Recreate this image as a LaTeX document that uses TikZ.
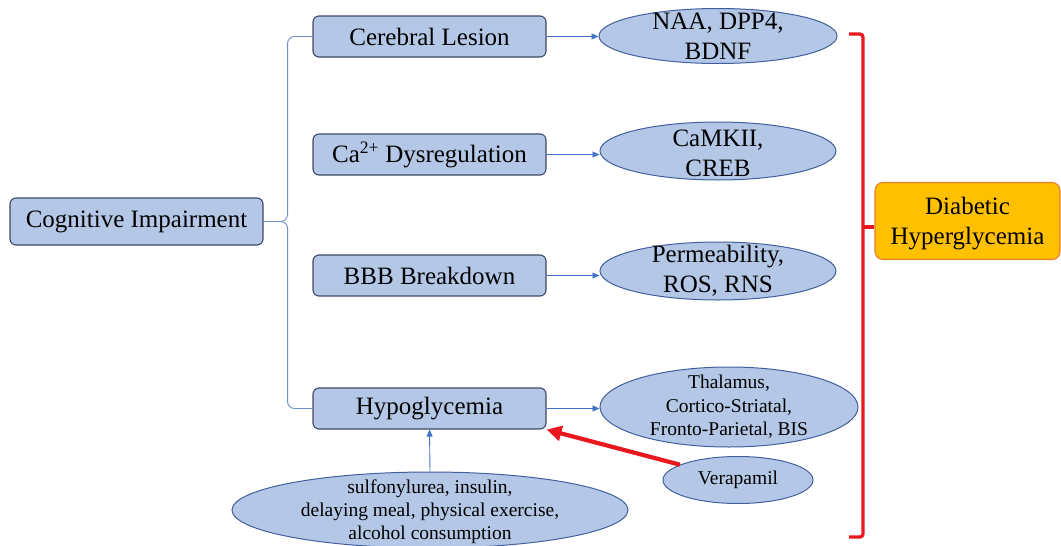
\documentclass[tikz,border=0pt]{standalone}
\usepackage{fontspec}
\setmainfont{Liberation Serif}
\usetikzlibrary{arrows.meta,shapes.geometric,calc}
\definecolor{boxfill}{RGB}{180,199,231}
\definecolor{boxline}{RGB}{60,72,100}
\definecolor{ellline}{RGB}{66,96,155}
\definecolor{arrblue}{RGB}{68,114,196}
\definecolor{connblue}{RGB}{110,142,200}
\definecolor{diabfill}{RGB}{255,192,0}
\definecolor{diabline}{RGB}{237,125,49}
\definecolor{redc}{RGB}{232,24,30}
\begin{document}
\begin{tikzpicture}[x=1pt,y=-1pt,
  bigfont/.style={font=\fontsize{25}{30}\selectfont},
  smallfont/.style={font=\fontsize{19.5}{23.5}\selectfont},
  box/.style={draw=boxline, fill=boxfill, line width=1.1pt, rounded corners=6pt,
    minimum width=233pt, minimum height=41pt, inner sep=0pt, bigfont},
  ell/.style={draw=ellline, fill=boxfill, line width=1pt, ellipse, inner sep=0pt},
  arr/.style={draw=arrblue, line width=0.9pt, -{Triangle[length=7pt,width=6pt]}},
  conn/.style={draw=connblue, line width=0.9pt},
  redbr/.style={draw=redc, line width=3.2pt},
  redarr/.style={draw=redc, line width=4.2pt, -{Triangle[length=15pt,width=15pt]}}
]
\useasboundingbox (0,0) rectangle (1061,546);

% left boxes
\node[box, minimum width=253pt, minimum height=47pt] (cog) at (136.5,221.5) {Cognitive Impairment};
\node[box] (cer) at (429.5,36.5) {Cerebral Lesion};
\node[box] (ca) at (429.5,154.5) {Ca\textsuperscript{2+} Dysregulation};
\node[box] (bbb) at (429.5,275.5) {BBB Breakdown};
\node[box] (hyp) at (429.5,408.5) {Hypoglycemia};

% ellipses
\node[ell, minimum width=238pt, minimum height=55pt,
  label={[bigfont, align=center]center:{NAA, DPP4,\\BDNF}}] (naa) at (718,36) {};
\node[ell, minimum width=236pt, minimum height=58pt,
  label={[bigfont, align=center, yshift=-2pt]center:{CaMKII,\\CREB}}] (camk) at (718,151) {};
\node[ell, minimum width=236pt, minimum height=58pt,
  label={[bigfont, align=center]center:{Permeability,\\ROS, RNS}}] (perm) at (718,271) {};
\node[ell, minimum width=258pt, minimum height=80pt,
  label={[smallfont, align=center]center:{Thalamus,\\Cortico-Striatal,\\Fronto-Parietal, BIS}}] (thal) at (729,407) {};
\node[ell, minimum width=150pt, minimum height=47pt,
  label={[smallfont]center:{Verapamil}}] (vera) at (738,480) {};
\node[ell, minimum width=396pt, minimum height=76pt,
  label={[align=center, font=\fontsize{19.5}{23}\selectfont, yshift=-2pt]center:{sulfonylurea, insulin,\\delaying meal, physical exercise,\\alcohol consumption}}] (sulf) at (430,510) {};

% diabetic box
\node[draw=diabline, fill=diabfill, line width=1.1pt, rounded corners=8pt,
  minimum width=185pt, minimum height=77pt, inner sep=0pt,
  label={[align=center, bigfont, yshift=-3pt]center:{Diabetic\\Hyperglycemia}}]
  (diab) at (967.5,221) {};

% brace connector from Cognitive Impairment
\coordinate (bj) at ($(cog.east)+(24,0)$);
\draw[conn, rounded corners=7pt] (cer.west) -| (bj) -- (cog.east);
\draw[conn, rounded corners=7pt] (hyp.west) -| (bj) -- (cog.east);

% blue arrows
\draw[arr] (cer.east) -- (cer.east -| naa.west);
\draw[arr] (ca.east) -- (ca.east -| camk.west);
\draw[arr] (bbb.east) -- (bbb.east -| perm.west);
\draw[arr] (hyp.east) -- (hyp.east -| thal.west);
\draw[arr] (sulf.north) -- (hyp.south);

% red arrow
\draw[redarr] (vera) -- (hyp.south east);

% red bracket
\coordinate (rt) at (849,34);
\coordinate (rb) at (849,537);
\coordinate (rm) at (863,227);
\draw[redbr, rounded corners=3pt] (rt) -- (rt -| rm) -- (rb -| rm) -- (rb);
\draw[redbr] (rm) -- (rm -| diab.west);
\end{tikzpicture}
\end{document}
